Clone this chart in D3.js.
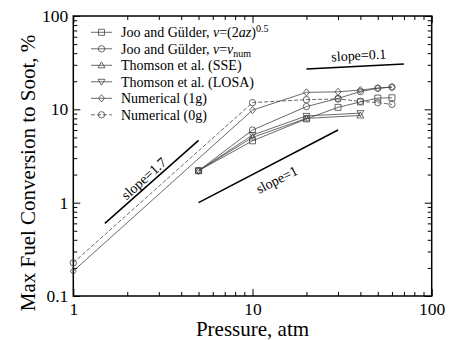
<!DOCTYPE html>
<html>
<head>
<meta charset="utf-8">
<script src="https://cdn.jsdelivr.net/npm/d3@7"></script>
<style>
  body { margin: 0; background: #fff; }
  svg { display: block; font-family: "Liberation Serif", "Times New Roman", serif; }
  .axis text { font-size: 17.5px; fill: #000; font-family: "Liberation Serif", serif; }
  .axis line { stroke: #000; stroke-width: 1; }
  .axis path { display: none; }
</style>
</head>
<body>
<script>
// pressures, atm
var pNum = [1, 10, 20, 30, 40, 50, 60];
var pJoo = [5, 10, 20, 30, 40, 50, 60];
var pThomson = [5, 10, 20, 40];

// max fuel conversion to soot, %
var num1g = [0.185, 9.8, 15.2, 15.4, 16.1, 16.9, 17.3];
var num0g = [0.227, 11.8, 12.7, 12.9, 12.2, 11.8, 11.3];
var jooSqrt = [2.2, 4.6, 7.9, 10.5, 12.0, 13.2, 13.3];
var jooNum = [2.2, 6.0, 10.7, 13.1, 15.5, 16.8, 17.3];
var thomsonSSE = [2.2, 5.0, 8.0, 8.6];
var thomsonLOSA = [2.2, 5.3, 8.5, 9.1];

// reference slope lines [[p0, v0], [p1, v1]]
var slope17 = [[1.5, 0.6], [5, 4.65]];
var slope1 = [[5, 1], [30, 6]];
var slope01 = [[20, 27], [70, 30.6]];

var xMajor = [1, 10, 100];
var yMajor = [0.1, 1, 10, 100];
var yLabels = ["0.1", "1", "10", "100"];

var w = 451, h = 340,
    mLeft = 73.3, mRight = 431.7, mTop = 16, mBottom = 296;

var x = d3.scaleLog().domain([1, 100]).range([mLeft, mRight]);
var y = d3.scaleLog().domain([0.1, 100]).range([mBottom, mTop]);

var xMinor = x.ticks().filter(function(d) { return xMajor.indexOf(d) < 0; });
var yMinor = y.ticks().filter(function(d) { return yMajor.indexOf(d) < 0; });

var svg = d3.select("body").append("svg")
    .attr("width", w)
    .attr("height", h);

// axes, ticks pointing inward on all four sides
function addAxis(axis, tx, ty, values, size, labels) {
  var a = axis.tickValues(values).tickSize(-size);
  if (labels) a.tickFormat(function(d, i) { return labels[i]; });
  else a.tickFormat("");
  return svg.append("g")
      .attr("class", "axis")
      .attr("transform", "translate(" + tx + "," + ty + ")")
      .call(a);
}

addAxis(d3.axisBottom(x).tickPadding(6.5), 0, mBottom, xMajor, 7, ["1", "10", "100"]);
addAxis(d3.axisBottom(x), 0, mBottom, xMinor, 4);
addAxis(d3.axisTop(x), 0, mTop, xMajor, 7);
addAxis(d3.axisTop(x), 0, mTop, xMinor, 4);
addAxis(d3.axisLeft(y).tickPadding(5), mLeft, 0, yMajor, 7, yLabels);
addAxis(d3.axisLeft(y), mLeft, 0, yMinor, 4);
addAxis(d3.axisRight(y), mRight, 0, yMajor, 7);
addAxis(d3.axisRight(y), mRight, 0, yMinor, 4);

svg.append("rect")
    .attr("x", mLeft)
    .attr("y", mTop)
    .attr("width", mRight - mLeft)
    .attr("height", mBottom - mTop)
    .attr("fill", "none")
    .attr("stroke", "#000")
    .attr("stroke-width", 1.5);

function marker(type) {
  switch (type) {
    case "square": return "M-3,-3h6v6h-6Z";
    case "circle": return "M-3.2,0a3.2,3.2 0 1,0 6.4,0a3.2,3.2 0 1,0 -6.4,0Z";
    case "up": return "M0,-3.5L3.5,2.5L-3.5,2.5Z";
    case "down": return "M0,3.5L3.5,-2.5L-3.5,-2.5Z";
    case "diamond": return "M0,-3.6L3,0L0,3.6L-3,0Z";
  }
}

var series = [
  {p: pJoo, v: jooSqrt, shape: "square", dash: null},
  {p: pJoo, v: jooNum, shape: "circle", dash: null},
  {p: pThomson, v: thomsonSSE, shape: "up", dash: null},
  {p: pThomson, v: thomsonLOSA, shape: "down", dash: null},
  {p: pNum, v: num1g, shape: "diamond", dash: null},
  {p: pNum, v: num0g, shape: "circle", dash: "4,2"}
];

var line = d3.line()
    .x(function(d) { return x(d[0]); })
    .y(function(d) { return y(d[1]); });

series.forEach(function(s) {
  var pts = s.p.map(function(p, i) { return [p, s.v[i]]; });
  svg.append("path")
      .attr("d", line(pts))
      .attr("fill", "none")
      .attr("stroke", "#444")
      .attr("stroke-width", 0.8)
      .attr("stroke-dasharray", s.dash);
  svg.append("g").selectAll("path")
      .data(pts)
    .enter().append("path")
      .attr("transform", function(d) { return "translate(" + x(d[0]) + "," + y(d[1]) + ")"; })
      .attr("d", marker(s.shape))
      .attr("fill", "none")
      .attr("stroke", "#444")
      .attr("stroke-width", 0.8);
});

// slope guide lines
[slope17, slope1, slope01].forEach(function(s) {
  svg.append("path")
      .attr("d", line(s))
      .attr("fill", "none")
      .attr("stroke", "#000")
      .attr("stroke-width", 1.5);
});

function slopeText(txt, cx, cy, angle) {
  svg.append("text")
      .attr("transform", "translate(" + cx + "," + cy + ")rotate(" + angle + ")")
      .attr("text-anchor", "middle")
      .attr("font-size", "14px")
      .text(txt);
}
slopeText("slope=1.7", 147, 182, -42);
slopeText("slope=1", 279, 184, -27);
slopeText("slope=0.1", 359, 60, -3);

// legend
var legend = svg.append("g");
var rowY = [32.3, 48.8, 65.3, 81.8, 98.3, 114.8];

series.forEach(function(s, i) {
  var g = legend.append("g").attr("transform", "translate(0," + rowY[i] + ")");
  g.append("line")
      .attr("x1", 91).attr("x2", 112)
      .attr("stroke", "#444")
      .attr("stroke-width", 0.8)
      .attr("stroke-dasharray", s.dash);
  g.append("path")
      .attr("transform", "translate(101.5,0)")
      .attr("d", marker(s.shape))
      .attr("fill", "none")
      .attr("stroke", "#444")
      .attr("stroke-width", 0.8);
});

function legendText(i) {
  return legend.append("text")
      .attr("x", 121)
      .attr("y", rowY[i])
      .attr("dy", "0.35em")
      .attr("font-size", "14px");
}

var t0 = legendText(0);
t0.append("tspan").text("Joo and Gülder, ");
t0.append("tspan").attr("font-style", "italic").text("v");
t0.append("tspan").text("=(2");
t0.append("tspan").attr("font-style", "italic").text("az");
t0.append("tspan").text(")");
t0.append("tspan").attr("font-size", "10px").attr("dy", "-0.55em").text("0.5");

var t1 = legendText(1);
t1.append("tspan").text("Joo and Gülder, ");
t1.append("tspan").attr("font-style", "italic").text("v");
t1.append("tspan").text("=");
t1.append("tspan").attr("font-style", "italic").text("v");
t1.append("tspan").attr("font-size", "10px").attr("dy", "0.35em").text("num");

legendText(2).text("Thomson et al. (SSE)");
legendText(3).text("Thomson et al. (LOSA)");
legendText(4).text("Numerical (1g)");
legendText(5).text("Numerical (0g)");

// axis titles
svg.append("text")
    .attr("x", (mLeft + mRight) / 2)
    .attr("y", 336)
    .attr("text-anchor", "middle")
    .attr("font-size", "21px")
    .text("Pressure, atm");

svg.append("text")
    .attr("transform", "translate(35," + 173 + ")rotate(-90)")
    .attr("text-anchor", "middle")
    .attr("font-size", "21px")
    .text("Max Fuel Conversion to Soot, %");
</script>
</body>
</html>
